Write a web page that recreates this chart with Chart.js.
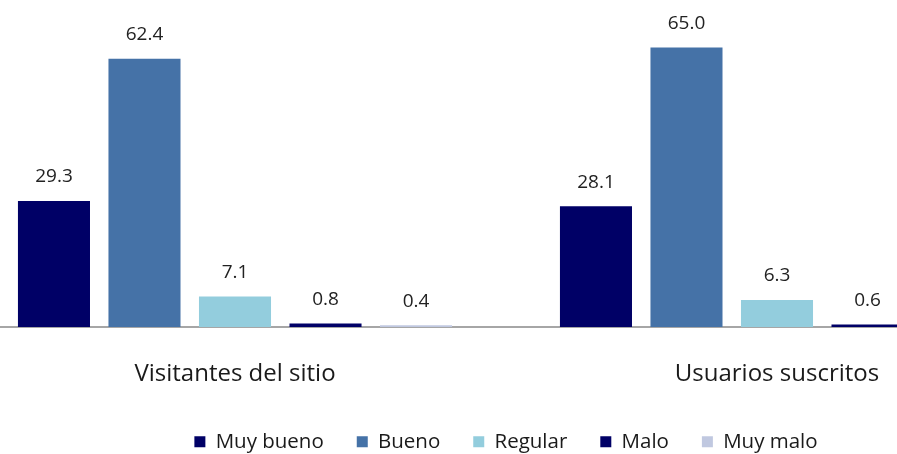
<!DOCTYPE html>
<html>
<head>
<meta charset="utf-8">
<script src="https://cdn.jsdelivr.net/npm/chart.js@4.4.0/dist/chart.umd.min.js"></script>
<style>
  html, body { margin: 0; padding: 0; background: #fff; }
  #wrap { position: relative; width: 897px; height: 454px; overflow: hidden; }
  #chart { position: absolute; left: -36px; top: 0; }
</style>
</head>
<body>
<div id="wrap">
  <canvas id="chart" width="1084" height="454"></canvas>
</div>
<script>
// Categories on the x axis
const categories = ["Visitantes del sitio", "Usuarios suscritos"];

// Series (percentages)
const muyBueno = [29.3, 28.1];
const bueno = [62.4, 65.0];
const regular = [7.1, 6.3];
const malo = [0.8, 0.6];
const muyMalo = [0.4, 0.0];

const seriesNames = ["Muy bueno", "Bueno", "Regular", "Malo", "Muy malo"];
const seriesColors = ["#000066", "#4572a7", "#93cddd", "#000066", "#c0c8e0"];
const seriesData = [muyBueno, bueno, regular, malo, muyMalo];

const fontFamily = "'Open Sans', 'Noto Sans', sans-serif";
const axisBottom = 327; // where the category axis sits on the page

// Draw the value above each bar
const valueLabels = {
    id: "valueLabels",
    afterDatasetsDraw(chart) {
        const ctx = chart.ctx;
        ctx.save();
        ctx.font = "19px " + fontFamily;
        ctx.fillStyle = "#222";
        ctx.textAlign = "center";
        ctx.textBaseline = "middle";
        chart.data.datasets.forEach((ds, i) => {
            chart.getDatasetMeta(i).data.forEach((bar, j) => {
                const v = ds.data[j];
                if (v === 0) return;
                ctx.fillText(v.toFixed(1), bar.x, bar.y - 24);
            });
        });
        ctx.restore();
    }
};

const ctx = document.getElementById("chart").getContext("2d");
const chart = new Chart(ctx, {
    type: "bar",
    data: {
        labels: categories,
        datasets: seriesNames.map((name, i) => ({
            label: name,
            data: seriesData[i],
            backgroundColor: seriesColors[i],
            borderWidth: 0,
            categoryPercentage: 0.835,
            barPercentage: 0.796
        }))
    },
    options: {
        responsive: false,
        animation: false,
        devicePixelRatio: 1,
        layout: { padding: { top: 26, left: 0, right: 0, bottom: -8 } },
        plugins: {
            tooltip: { enabled: false },
            legend: {
                position: "bottom",
                labels: {
                    font: { family: fontFamily, size: 20.5 },
                    color: "#1a1a1a",
                    boxWidth: 11,
                    boxHeight: 11,
                    padding: 33
                }
            }
        },
        scales: {
            x: {
                grid: { display: false, drawTicks: false },
                border: { color: "#a6a6a6", width: 2 },
                ticks: {
                    font: { family: fontFamily, size: 24 },
                    color: "#1a1a1a",
                    padding: 33
                },
                afterFit(scale) {
                    const legendH = scale.chart.legend ? scale.chart.legend.height : 0;
                    scale.height = scale.chart.height + 8 - legendH - axisBottom;
                }
            },
            y: {
                display: false,
                min: 0,
                max: 70
            }
        }
    },
    plugins: [valueLabels]
});
</script>
</body>
</html>
